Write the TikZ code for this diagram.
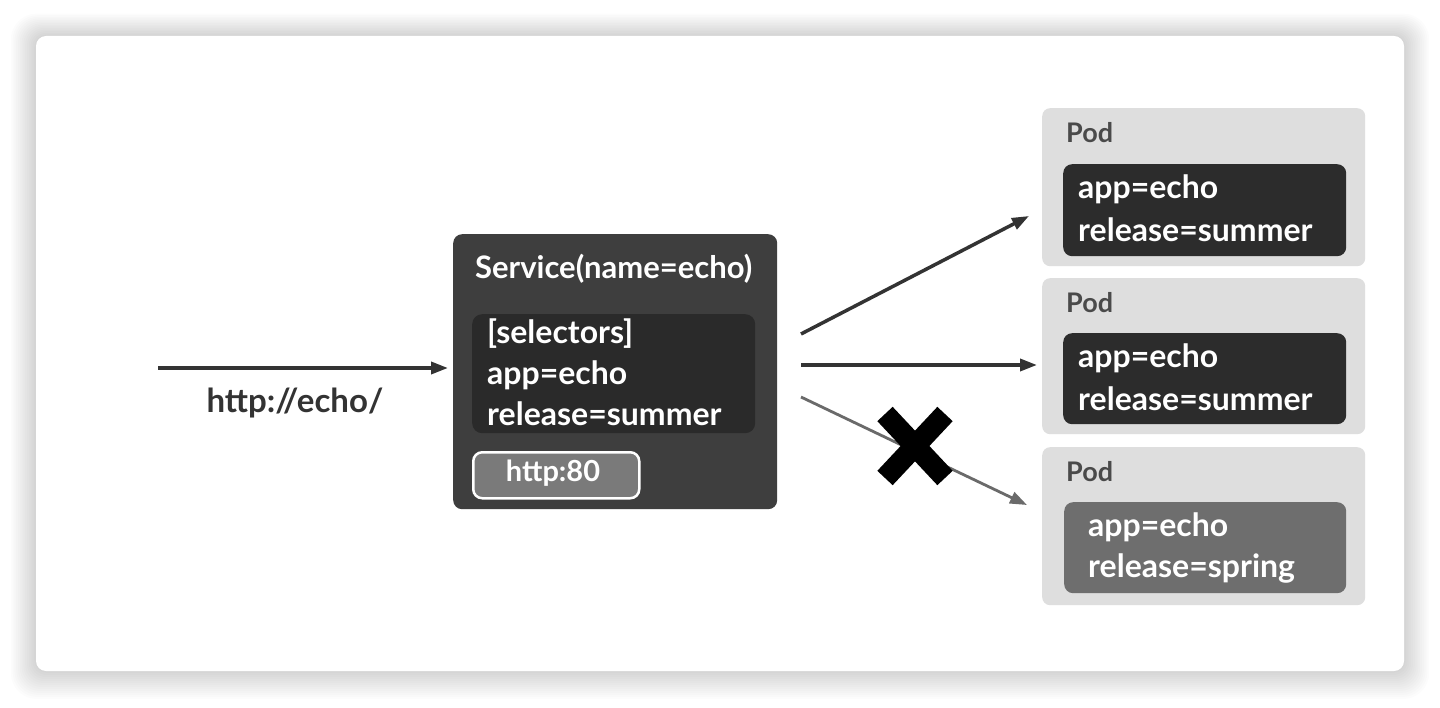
\documentclass[tikz,border=0pt]{standalone}
\usepackage{fontspec}
\setmainfont{Lato}
\usetikzlibrary{arrows.meta}
\definecolor{svcfill}{HTML}{3E3E3E}
\definecolor{selfill}{HTML}{2A2A2A}
\definecolor{portfill}{HTML}{7A7A7A}
\definecolor{podfill}{HTML}{DEDEDE}
\definecolor{labfill}{HTML}{2C2C2C}
\definecolor{labfill2}{HTML}{6E6E6E}
\definecolor{arrowcol}{HTML}{333333}
\definecolor{arrowlight}{HTML}{6A6A6A}
\definecolor{podtext}{HTML}{4A4A4A}
\begin{document}
\begin{tikzpicture}[x=1pt,y=-1pt,
  txt/.style={font=\fontsize{32}{32}\selectfont\bfseries, inner sep=0pt, anchor=west},
  wtxt/.style={txt, text=white},
  podbox/.style={fill=podfill, rounded corners=8pt, draw=none},
  conn/.style={draw=arrowcol, line width=3.5pt, -{Triangle[length=17pt,width=12pt]}},
  ]
\useasboundingbox (0,0) rectangle (1440,708);
\fill[white] (0,0) rectangle (1440,708);
% shadow
\foreach \i in {1,...,14}{
  \fill[black, opacity=0.011, rounded corners={12pt+\i pt}] ({36-\i*1.8},{36-\i*1.6}) rectangle ({1404+\i*1.8},{671+\i*2.0});
}
\fill[white, rounded corners=10pt] (36,36) rectangle (1404,671);

% service
\node[fill=svcfill, rounded corners=9pt, minimum width=324pt, minimum height=275pt, inner sep=0pt, anchor=north west] (svc) at (453,234) {};
\node[wtxt, font=\fontsize{31}{31}\selectfont\bfseries] (svctitle) at (475,269) {Service(name=echo)};
\node[fill=selfill, rounded corners=10pt, minimum width=283pt, minimum height=119pt, inner sep=0pt, anchor=north west] (sel) at (472,314) {};
\node[wtxt] (s1) at (487,334) {[selectors]};
\node[wtxt] (s2) at (487,375) {app=echo};
\node[wtxt] (s3) at (487,414) {release=summer};
\node[fill=portfill, draw=white, line width=2.5pt, rounded corners=9pt, minimum width=166pt, minimum height=46pt, inner sep=0pt, anchor=north west] (port) at (472,451) {};
\node[txt, text=white, anchor=center, font=\fontsize{29}{29}\selectfont\bfseries] (portlbl) at (553,473) {http:80};

% input
\coordinate (src) at (158,368);
\draw[conn] (src) -- (svc.west |- src) [shorten >=5pt];
\node[txt, anchor=center, text=arrowcol, font=\fontsize{33}{33}\selectfont\bfseries] (url) at (295,403) {http://echo/};

% pods
\node[podbox, minimum width=323pt, minimum height=158pt, inner sep=0pt, anchor=north west] (pod1) at (1042,108) {};
\node[txt, text=podtext, font=\fontsize{27}{27}\selectfont\bfseries] (p1t) at (1066,133) {Pod};
\node[fill=labfill, rounded corners=9pt, minimum width=283pt, minimum height=92pt, inner sep=0pt, anchor=north west] (l1) at (1063,164) {};
\node[wtxt] (l1a) at (1078,189) {app=echo};
\node[wtxt] (l1b) at (1078,230) {release=summer};

\node[podbox, minimum width=323pt, minimum height=156pt, inner sep=0pt, anchor=north west] (pod2) at (1042,278) {};
\node[txt, text=podtext, font=\fontsize{27}{27}\selectfont\bfseries] (p2t) at (1066,303) {Pod};
\node[fill=labfill, rounded corners=9pt, minimum width=283pt, minimum height=91pt, inner sep=0pt, anchor=north west] (l2) at (1063,333) {};
\node[wtxt] (l2a) at (1078,358) {app=echo};
\node[wtxt] (l2b) at (1078,399) {release=summer};

\node[podbox, minimum width=323pt, minimum height=158pt, inner sep=0pt, anchor=north west] (pod3) at (1042,447) {};
\node[txt, text=podtext, font=\fontsize{27}{27}\selectfont\bfseries] (p3t) at (1066,472) {Pod};
\node[fill=labfill2, rounded corners=9pt, minimum width=282pt, minimum height=91pt, inner sep=0pt, anchor=north west] (l3) at (1064,502) {};
\node[wtxt] (l3a) at (1088,527) {app=echo};
\node[wtxt] (l3b) at (1088,568) {release=spring};

% connectors
\coordinate (o1) at (801,334);
\coordinate (o2) at (801,365);
\coordinate (o3) at (801,397);
\coordinate (t1) at (1029,216);
\coordinate (t2) at (1037,365);
\coordinate (t3) at (1027,505);
\draw[conn] (o1) -- (t1);
\draw[conn] (o2) -- (t2);
\draw[conn, draw=arrowlight, line width=2.8pt] (o3) -- (t3);

% X mark
\draw[black, line width=21pt] (885,414) -- (945,478);
\draw[black, line width=21pt] (945,414) -- (885,478);
\end{tikzpicture}
\end{document}
